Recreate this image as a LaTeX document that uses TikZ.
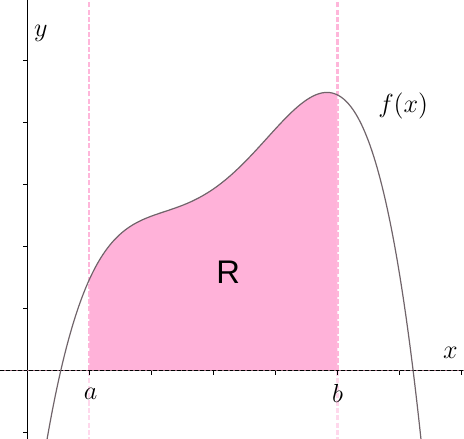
\documentclass[tikz,border=0pt]{standalone}
\usepackage{fontspec}
\newfontfamily\rfont{Liberation Sans}
\definecolor{fillpink}{RGB}{255,178,217}
\definecolor{dashpink}{RGB}{255,182,218}
\definecolor{dashlight}{RGB}{255,216,236}
\definecolor{curvegray}{RGB}{112,100,106}
\definecolor{axisbrown}{RGB}{150,105,122}
\begin{document}
\begin{tikzpicture}[x=1cm,y=1cm,
  font=\fontsize{11.5}{14}\selectfont,
  declare function={fc(\t)=(\t-0.539)*(6.22-\t)*(0.362+0.086*(\t-2.7)*(\t-2.7));},
  vline/.style={dashpink, line width=1pt, dash pattern=on 2.4pt off 1pt},
  vlinelow/.style={dashlight, line width=1pt, dash pattern=on 2.4pt off 1pt},
  curveline/.style={curvegray, line width=0.55pt},
  axisline/.style={black, line width=0.7pt},
  tickline/.style={black, line width=0.5pt},
  lbl/.style={inner sep=0pt}]
\useasboundingbox (-0.44,-1.09) rectangle (7.04,5.976);
\clip (-0.44,-1.09) rectangle (7.04,5.976);
% filled region
\fill[fillpink] plot[domain=1:5, samples=80, smooth] (\x,{fc(\x)}) -- (5,0) -- (1,0) -- cycle;
% dashed verticals
\draw[vline] (1,0) -- (1,6);
\draw[vline] (5,0) -- (5,6);
\draw[vlinelow] (1,0) -- (1,-1.1);
\draw[vlinelow] (5,0) -- (5,-1.1);
% axes
\draw[axisline] (0,-1.1) -- (0,6);
\draw[axisbrown, line width=0.7pt] (-0.44,0) -- (7.04,0);
\draw[axisline, dash pattern=on 1.8pt off 0.9pt] (-0.44,0) -- (7.04,0);
\foreach \y in {-1,1,2,3,4,5} \draw[tickline] (0,\y) -- (-0.07,\y);
\foreach \x in {1,...,7} \draw[tickline] (\x,0) -- (\x,-0.07);
% curve
\draw[curveline] plot[domain=0.25:6.42, samples=160, smooth] (\x,{fc(\x)});
% labels
\node[lbl] (ylab) at (0.22,5.44) {$y$};
\node[lbl] (xlab) at (6.82,0.28) {$x$};
\node[lbl] (alab) at (1.02,-0.37) {$a$};
\node[lbl] (blab) at (5.0,-0.37) {$b$};
\node[lbl] (flab) at (6.06,4.27) {$f(x)$};
\node[lbl, font=\rfont\fontsize{15}{18}\selectfont] (R) at (3.24,1.58) {R};
\end{tikzpicture}
\end{document}
